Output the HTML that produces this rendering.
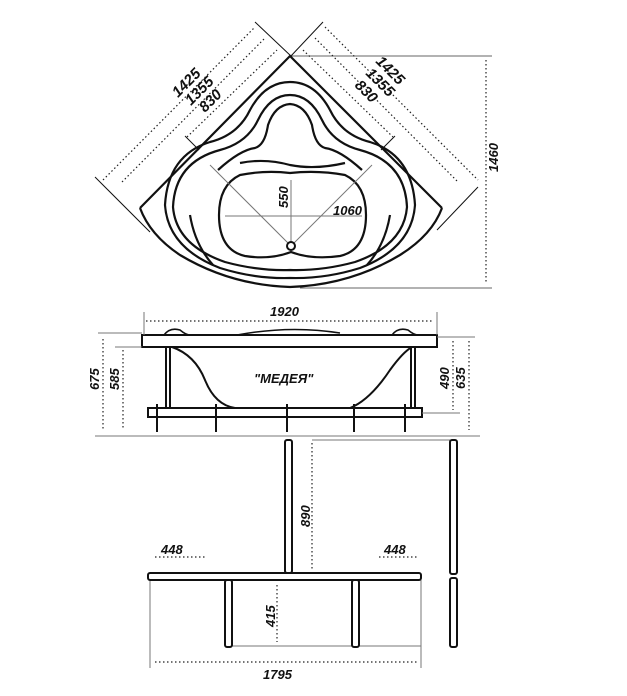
<!DOCTYPE html>
<html><head><meta charset="utf-8"><style>
html,body{margin:0;padding:0;background:#fff}
svg{display:block}
text{font-family:"Liberation Sans",sans-serif;font-weight:bold;font-style:italic;fill:#111}
</style></head><body>
<svg width="627" height="696" viewBox="0 0 627 696" xmlns="http://www.w3.org/2000/svg">
<g fill="none" stroke="#111" stroke-width="1">
<line x1="95" y1="177" x2="150" y2="232"/>
<line x1="255" y1="22" x2="292" y2="57"/>
<line x1="323" y1="22" x2="290" y2="57"/>
<line x1="478" y1="187" x2="437" y2="230"/>
<line x1="185" y1="136" x2="199" y2="150"/>
<line x1="395" y1="136" x2="381" y2="150"/>
<line x1="292" y1="56" x2="492" y2="56" stroke="#666"/>
<line x1="300" y1="288" x2="492" y2="288" stroke="#666"/>
</g>
<g fill="none" stroke="#222" stroke-width="1.2" stroke-dasharray="1.5 2.5">
<line x1="103" y1="180" x2="255" y2="27"/>
<line x1="122" y1="182" x2="265" y2="38"/>
<line x1="187" y1="137" x2="277" y2="50"/>
<line x1="325" y1="27" x2="478" y2="180"/>
<line x1="315" y1="38" x2="458" y2="182"/>
<line x1="303" y1="50" x2="393" y2="137"/>
<line x1="486" y1="60" x2="486" y2="284"/>
<line x1="146" y1="321" x2="433" y2="321"/>
<line x1="103" y1="339" x2="103" y2="430"/>
<line x1="123" y1="350" x2="123" y2="430"/>
<line x1="453" y1="341" x2="453" y2="410"/>
<line x1="469" y1="341" x2="469" y2="430"/>
<line x1="312" y1="443" x2="312" y2="569"/>
<line x1="277" y1="585" x2="277" y2="642"/>
<line x1="155" y1="557" x2="205" y2="557"/>
<line x1="379" y1="557" x2="418" y2="557"/>
<line x1="155" y1="662" x2="417" y2="662"/>
</g>
<g fill="none" stroke="#111" stroke-width="2.2">
<path d="M140 208 L290 56 L442 208"/>
<path d="M140 208 Q150 235 180 255 Q230 285 290 287 Q350 285 400 255 Q432 235 442 208"/>
<path d="M290 82 Q265 82 250 110 Q238 135 210 142 Q168 155 165 205 Q168 248 220 268 Q255 279 290 278 Q325 279 360 268 Q412 248 415 205 Q412 155 370 142 Q342 135 330 110 Q315 82 290 82 Z"/>
<path d="M290 95 Q270 95 258 120 Q247 143 220 150 Q175 162 173 207 Q176 245 225 262 Q258 271 290 270 Q322 271 355 262 Q404 245 407 207 Q405 162 360 150 Q333 143 322 120 Q310 95 290 95 Z"/>
<path d="M218 170 Q240 150 255 148 Q265 145 268 125 Q275 105 290 104 Q305 105 312 125 Q315 145 325 148 Q340 150 362 170"/>
<path d="M190 215 Q195 245 213 265"/>
<path d="M390 215 Q385 245 367 265"/>
<path d="M240 163 Q265 158 290 165 Q315 170 345 163"/>
<path d="M290 173 Q265 170 240 175 Q219 185 219 215 Q219 250 245 256 Q270 260 291 252 Q312 260 340 256 Q366 250 366 215 Q366 185 345 175 Q318 170 290 173 Z"/>
</g>
<g fill="none" stroke="#777" stroke-width="1">
<line x1="210" y1="165" x2="291" y2="246"/>
<line x1="372" y1="165" x2="291" y2="246"/>
<line x1="291" y1="180" x2="291" y2="246"/>
<line x1="225" y1="216" x2="362" y2="216"/>
</g>
<circle cx="291" cy="246" r="4" fill="#fff" stroke="#111" stroke-width="2"/>
<g fill="none" stroke="#111" stroke-width="2">
<rect x="142" y="335" width="295" height="12"/>
<rect x="148" y="408" width="274" height="9"/>
<line x1="166" y1="347" x2="166" y2="408"/><line x1="170" y1="347" x2="170" y2="408"/>
<line x1="411" y1="347" x2="411" y2="408"/><line x1="415" y1="347" x2="415" y2="408"/>
<path d="M172 347 Q195 355 205 380 Q215 405 235 408 L350 408 Q370 400 390 370 Q403 352 412 347"/>
<path d="M164 335 Q170 327 180 330 Q186 335 190 335 M237 335 Q290 325 340 333 M392 335 Q398 327 408 330 Q414 335 418 335" stroke-width="1.5"/>
</g>
<g stroke="#111" stroke-width="2">
<line x1="157" y1="404" x2="157" y2="432"/><line x1="216" y1="404" x2="216" y2="432"/>
<line x1="287" y1="404" x2="287" y2="432"/><line x1="354" y1="404" x2="354" y2="432"/>
<line x1="405" y1="404" x2="405" y2="432"/>
</g>
<g stroke="#777" stroke-width="1">
<line x1="95" y1="436" x2="480" y2="436"/>
<line x1="98" y1="333" x2="142" y2="333"/>
<line x1="115" y1="347" x2="142" y2="347"/>
<line x1="437" y1="337" x2="475" y2="337"/>
<line x1="422" y1="413" x2="460" y2="413"/>
<line x1="144" y1="312" x2="144" y2="335"/>
<line x1="437" y1="312" x2="437" y2="335"/>
<line x1="312" y1="440" x2="450" y2="440"/>
<line x1="150" y1="579" x2="150" y2="668"/>
<line x1="421" y1="579" x2="421" y2="668"/>
<line x1="232" y1="646" x2="421" y2="646"/>
</g>
<g fill="#fff" stroke="#111" stroke-width="2">
<rect x="148" y="573" width="273" height="7" rx="2"/>
<rect x="285" y="440" width="7" height="133" rx="2"/>
<rect x="225" y="580" width="7" height="67" rx="2"/>
<rect x="352" y="580" width="7" height="67" rx="2"/>
<rect x="450" y="440" width="7" height="134" rx="2"/>
<rect x="450" y="578" width="7" height="69" rx="2"/>
</g>
<g font-size="15" font-style="normal">
<text transform="translate(178,98) rotate(-45)">1425</text>
<text transform="translate(191,106) rotate(-45)">1355</text>
<text transform="translate(205,113) rotate(-45)">830</text>
<text transform="translate(375,62) rotate(45)">1425</text>
<text transform="translate(365,74) rotate(45)">1355</text>
<text transform="translate(354,86) rotate(45)">830</text>
</g>
<text font-size="13" transform="translate(498,172) rotate(-90)" font-style="normal">1460</text>
<text font-size="13" transform="translate(288,208) rotate(-90)">550</text>
<text x="333" y="215" font-size="13">1060</text>
<text x="270" y="316" font-size="13">1920</text>
<text x="254" y="383" font-size="13">"МЕДЕЯ"</text>
<text font-size="13" font-style="normal" transform="translate(99,390) rotate(-90)">675</text>
<text font-size="13" font-style="normal" transform="translate(119,390) rotate(-90)">585</text>
<text font-size="13" font-style="normal" transform="translate(449,389) rotate(-90)">490</text>
<text font-size="13" font-style="normal" transform="translate(465,389) rotate(-90)">635</text>
<text font-size="13" font-style="normal" transform="translate(310,527) rotate(-90)">890</text>
<text font-size="13" font-style="normal" transform="translate(275,627) rotate(-90)">415</text>
<text x="161" y="554" font-size="13">448</text>
<text x="384" y="554" font-size="13">448</text>
<text x="263" y="679" font-size="13">1795</text>
</svg>
</body></html>
